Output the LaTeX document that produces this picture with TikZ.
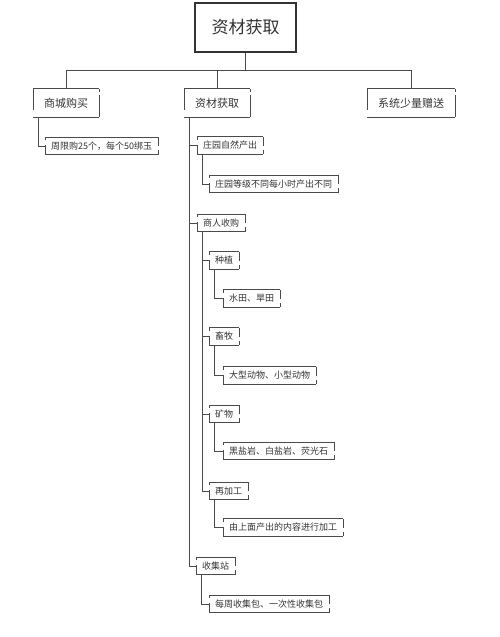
\documentclass[tikz,border=0pt]{standalone}
\usepackage{fontspec}
\newfontfamily\cjk{Noto Sans CJK SC}
\definecolor{ink}{HTML}{333333}
\definecolor{wire}{HTML}{4A4A4A}

\begin{document}
\begin{tikzpicture}[x=1pt, y=-1pt, font=\cjk, text=ink,
    rough/.style 2 args={append after command={
      (\tikzlastnode.north west) edge[draw=wire, line width=0.7pt] (\tikzlastnode.north east)
      (\tikzlastnode.south west) edge[draw=wire, line width=1pt] (\tikzlastnode.south east)
      (\tikzlastnode.north west) edge[draw=wire, line width=0.7pt, dash pattern=#1] (\tikzlastnode.south west)
      (\tikzlastnode.north east) edge[draw=wire, line width=0.7pt, dash pattern=#2] (\tikzlastnode.south east)}},
    topic/.style={rough={on 21pt off 7pt}{on 3pt off 3pt on 30pt}, anchor=west, minimum height=28pt,
      inner xsep=11pt, font=\cjk\fontsize{11}{13}\selectfont},
    leaf/.style={rough={on 3pt off 5pt on 20pt}{on 9pt off 4pt on 20pt}, anchor=west, minimum height=17pt,
      inner xsep=6pt, font=\cjk\fontsize{9}{11}\selectfont},
    branch/.style={draw=wire, line width=0.9pt}]

   \useasboundingbox (0,0) rectangle (500,637);

   \node [draw=ink, line width=1.3pt, minimum width=101pt, minimum height=49pt, font=\cjk\fontsize{17}{20}\selectfont]
      (root) at (245.5,27.5) {资材获取};
   \coordinate (hub) at (245.5,70);

   \foreach \n/\x/\t in {buy/33/商城购买, get/184/资材获取, gift/367/系统少量赠送}
     \node [topic] (\n) at (\x,103) {\t};

   \foreach \n/\x/\y/\t in {limit/45/146/周限购25个，每个50绑玉, manor/197/145.5/庄园自然产出,
       manorlv/209/184/庄园等级不同每小时产出不同, merchant/197/223/商人收购,
       plant/209/260.5/种植, field/223/298.5/水田、旱田, herd/209/336.5/畜牧,
       animal/223/375.5/大型动物、小型动物, mine/209/414/矿物, rock/223/451/黑盐岩、白盐岩、荧光石,
       craft/209/491/再加工, craftd/223/527.5/由上面产出的内容进行加工,
       station/196/566/收集站, pack/209/604/每周收集包、一次性收集包}
     \node [leaf] (\n) at (\x,\y) {\t};

   \draw [branch] (root) -- (hub);
   \foreach \n in {buy, get, gift}
     \draw [branch] (hub) -| (\n.north);

   \foreach \p/\c in {buy/limit, get/manor, get/merchant, get/station, manor/manorlv,
       merchant/plant, merchant/herd, merchant/mine, merchant/craft,
       plant/field, herd/animal, mine/rock, craft/craftd, station/pack}
     \draw [branch] ([xshift=5pt]\p.south west) |- (\c.west);

\end{tikzpicture}
\end{document}
